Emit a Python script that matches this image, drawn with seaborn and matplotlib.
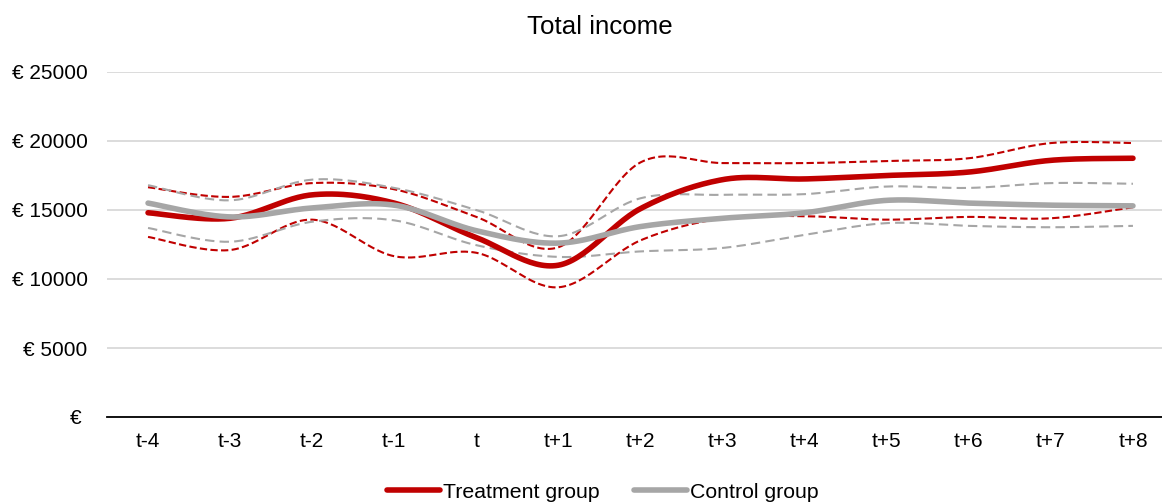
import numpy as np
import pandas as pd
import matplotlib.pyplot as plt
import seaborn as sns

periods = ['t-4', 't-3', 't-2', 't-1', 't', 't+1', 't+2', 't+3', 't+4', 't+5', 't+6', 't+7', 't+8']

treat = [14800, 14400, 16100, 15500, 13000, 11000, 15100, 17200, 17250, 17500, 17750, 18600, 18750]
treat_hi = [16650, 15950, 16950, 16500, 14500, 12300, 18450, 18400, 18400, 18550, 18750, 19850, 19850]
treat_lo = [13050, 12100, 14300, 11650, 11900, 9400, 12800, 14400, 14550, 14300, 14500, 14400, 15200]

ctrl = [15500, 14500, 15150, 15350, 13500, 12600, 13800, 14400, 14800, 15700, 15500, 15350, 15300]
ctrl_hi = [16800, 15700, 17200, 16600, 15000, 13100, 15850, 16100, 16150, 16700, 16600, 16950, 16900]
ctrl_lo = [13700, 12700, 14150, 14250, 12450, 11600, 12000, 12250, 13200, 14050, 13850, 13750, 13850]

y_ticks = [0, 5000, 10000, 15000, 20000, 25000]

RED = '#C00000'
GREY = '#A6A6A6'


def smooth(vals, n=30):
    # excel style smoothed line: cubic bezier, tangents (p[i+1]-p[i-1])/6
    p = np.asarray(vals, dtype=float)
    x = np.arange(len(p), dtype=float)
    pp = np.concatenate([[p[0]], p, [p[-1]]])
    px = np.concatenate([[x[0]], x, [x[-1]]])
    xs, ys = [], []
    t = np.linspace(0, 1, n)
    for i in range(len(p) - 1):
        x0, y0 = x[i], p[i]
        x3, y3 = x[i + 1], p[i + 1]
        x1 = x0 + (px[i + 2] - px[i]) / 6
        y1 = y0 + (pp[i + 2] - pp[i]) / 6
        x2 = x3 - (px[i + 3] - px[i + 1]) / 6
        y2 = y3 - (pp[i + 3] - pp[i + 1]) / 6
        b0 = (1 - t) ** 3
        b1 = 3 * (1 - t) ** 2 * t
        b2 = 3 * (1 - t) * t ** 2
        b3 = t ** 3
        xs.extend(b0 * x0 + b1 * x1 + b2 * x2 + b3 * x3)
        ys.extend(b0 * y0 + b1 * y1 + b2 * y2 + b3 * y3)
    return pd.DataFrame({'x': xs, 'y': ys})


sns.set_style('white')
plt.rcParams['font.family'] = ['Liberation Sans', 'DejaVu Sans']
plt.rcParams['text.color'] = 'black'

fig = plt.figure(figsize=(11.62, 5.04), dpi=100)
ax = fig.add_axes([107 / 1162, 87 / 504, 1067 / 1162, 345 / 504])

for vals, col in [(treat_hi, RED), (treat_lo, RED)]:
    d = smooth(vals)
    sns.lineplot(data=d, x='x', y='y', sort=False, estimator=None, ax=ax,
                 color=col, lw=1.5, linestyle=(0, (3.5, 1.6)))
for vals, col in [(ctrl_hi, GREY), (ctrl_lo, GREY)]:
    d = smooth(vals)
    sns.lineplot(data=d, x='x', y='y', sort=False, estimator=None, ax=ax,
                 color=col, lw=1.5, linestyle=(0, (4.5, 2.5)))

d = smooth(treat)
sns.lineplot(data=d, x='x', y='y', sort=False, estimator=None, ax=ax,
             color=RED, lw=4, solid_capstyle='round', label='Treatment group')
d = smooth(ctrl)
sns.lineplot(data=d, x='x', y='y', sort=False, estimator=None, ax=ax,
             color=GREY, lw=4, solid_capstyle='round', label='Control group')

ax.set_xlim(-0.5, 12.5)
ax.set_ylim(0, 25000)
ax.set_xticks(range(len(periods)))
ax.set_xticklabels(periods)
ax.set_yticks(y_ticks)
ax.set_yticklabels(['€ ' if v == 0 else '€ %d' % v for v in y_ticks])
ax.tick_params(axis='both', length=0, labelsize=15, colors='black')
ax.tick_params(axis='y', pad=14)
ax.tick_params(axis='x', pad=11)
ax.set_xlabel('')
ax.set_ylabel('')
ax.grid(axis='y', color='#D9D9D9', lw=1.3)
ax.grid(axis='x', visible=False)
for s in ['top', 'right', 'left']:
    ax.spines[s].set_visible(False)
ax.spines['bottom'].set_color('black')
ax.spines['bottom'].set_linewidth(1.3)

ax.get_legend().remove()
handles, labels = ax.get_legend_handles_labels()
fig.legend(handles, labels, loc='center', bbox_to_anchor=(0.519, 1 - 492 / 504),
           ncol=2, frameon=False, fontsize=15.3, handlelength=2.5,
           handletextpad=0.15, columnspacing=1.6)

fig.text(0.516, 1 - 27 / 504, 'Total income', ha='center', va='center',
         fontsize=18.6, color='black')

fig.savefig('out.png', dpi=100)
